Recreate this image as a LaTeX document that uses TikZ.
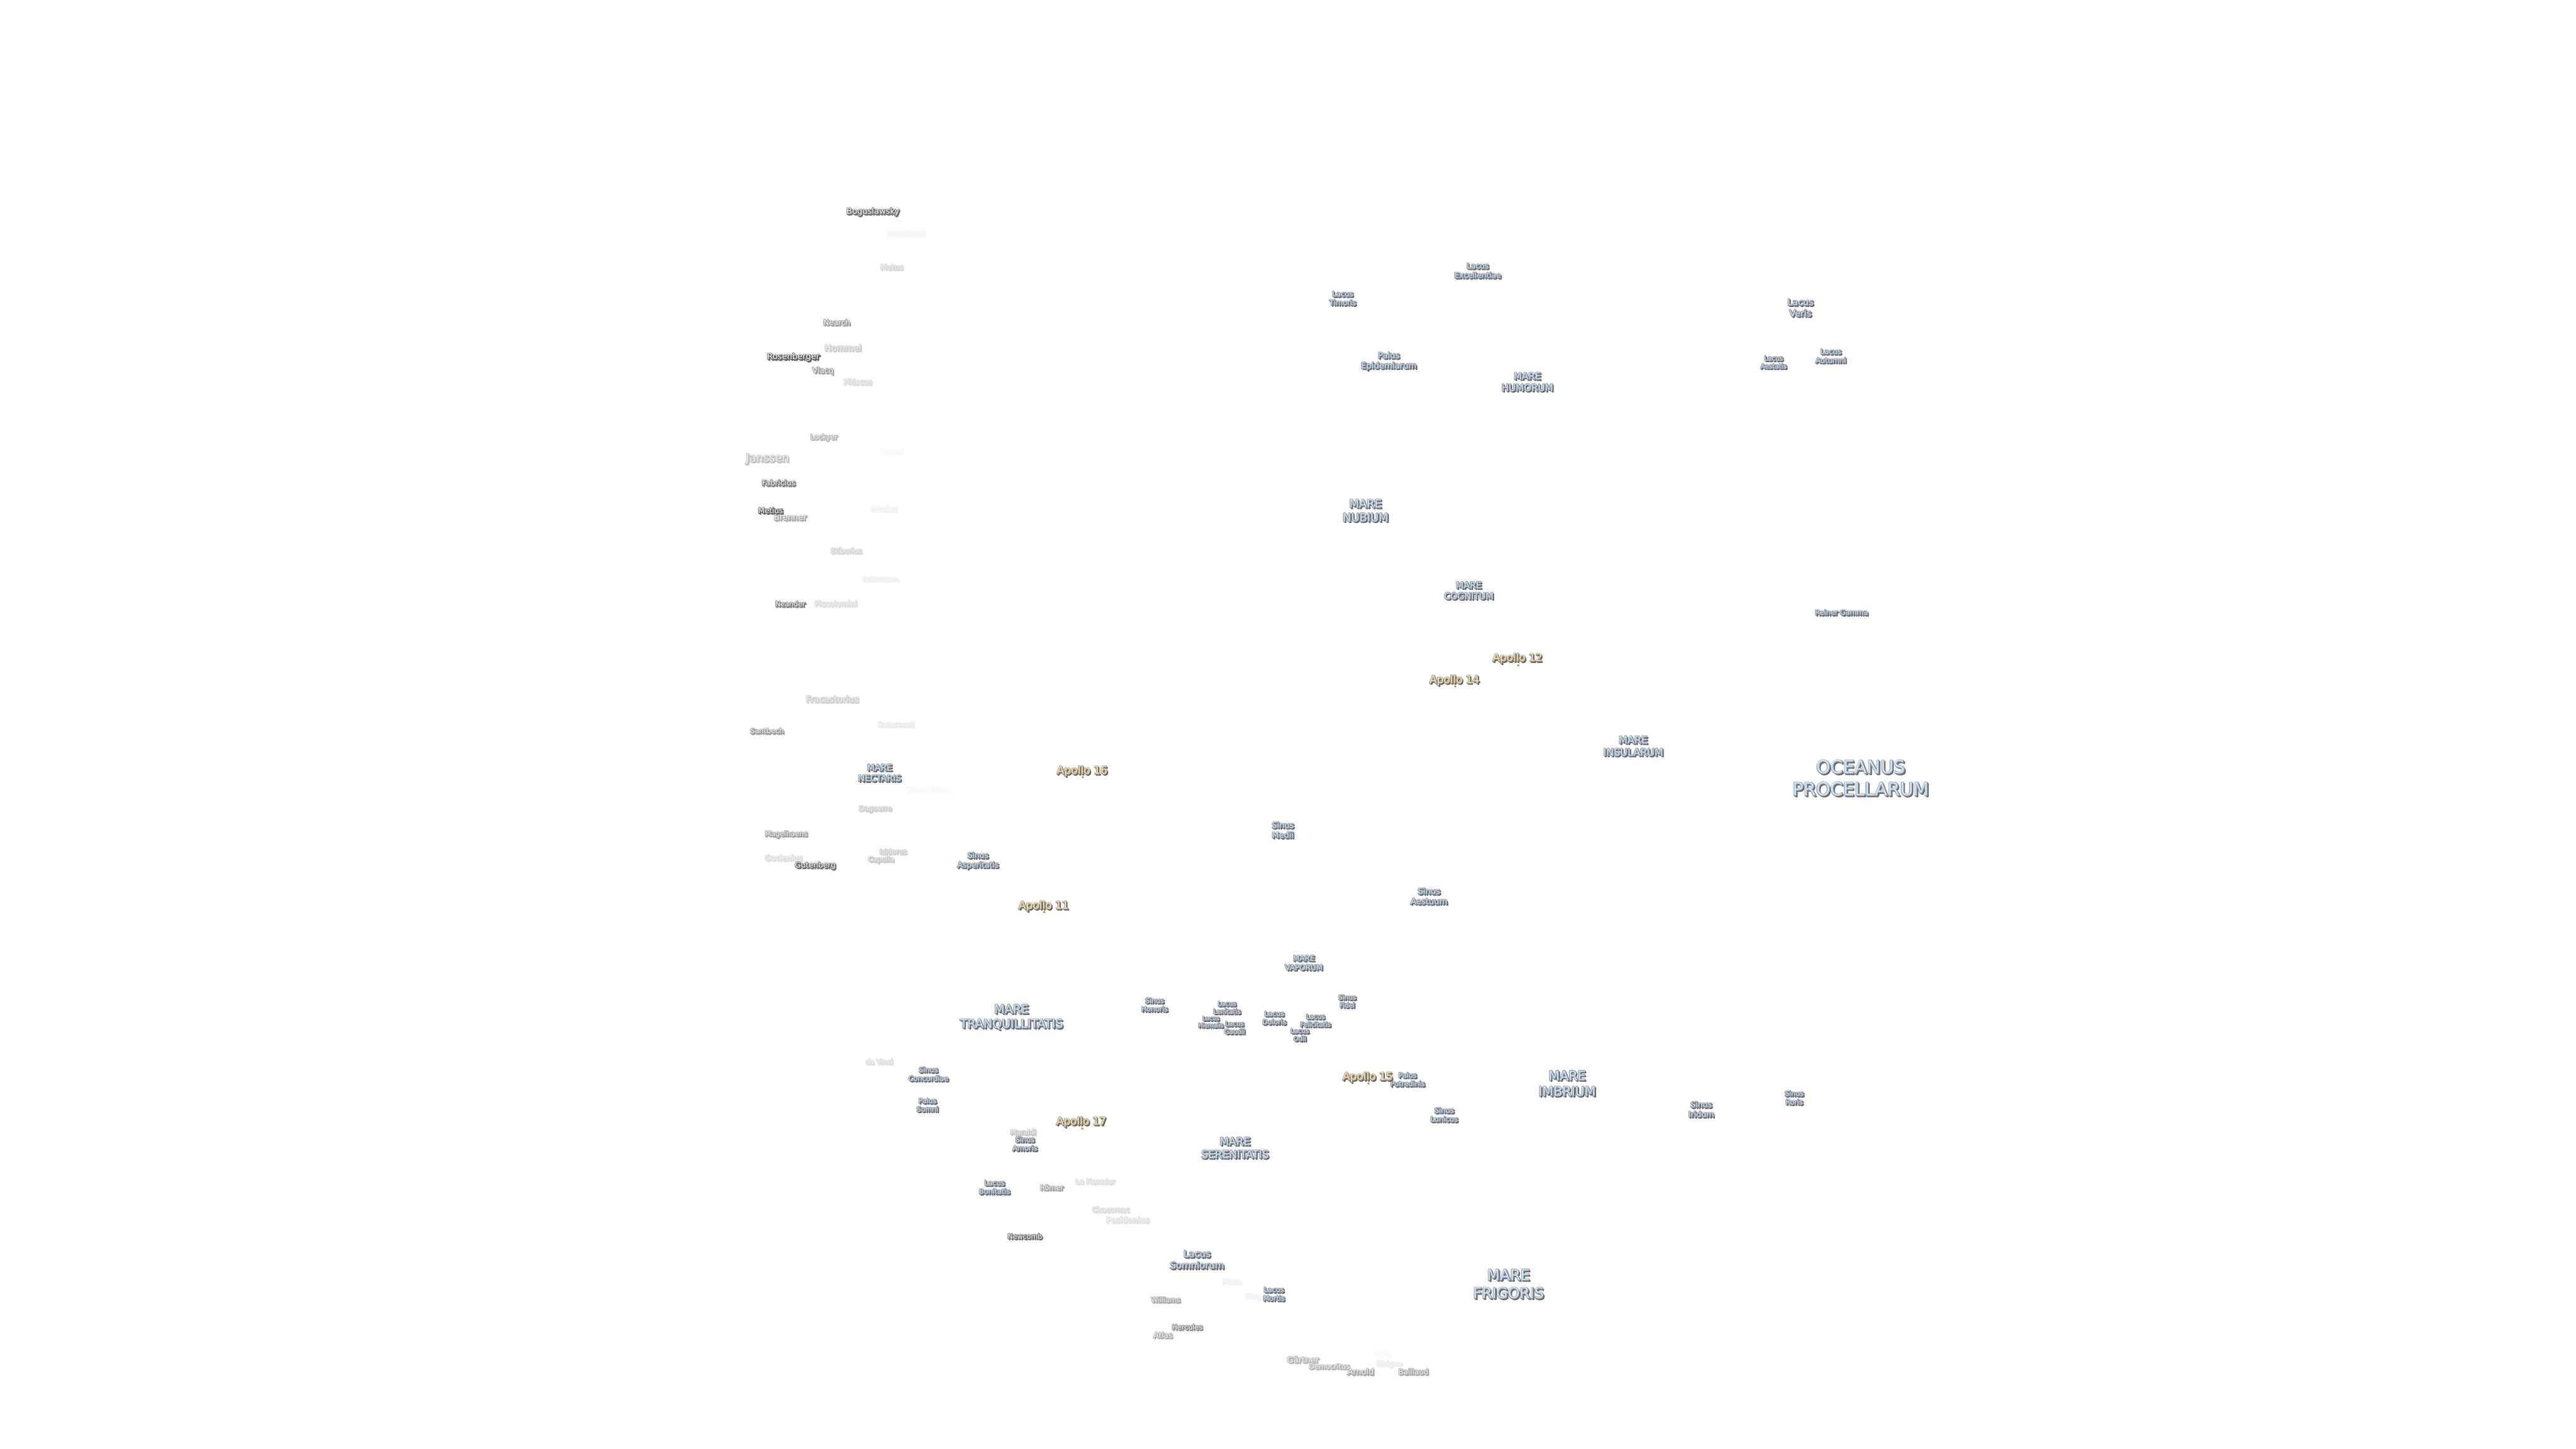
\documentclass[tikz,border=0pt]{standalone}
\usepackage{fontspec}
\setmainfont{DejaVu Sans}
\usepackage{xcolor}
\definecolor{seafill}{HTML}{CFE5FB}
\definecolor{seaedge}{HTML}{8E9298}
\definecolor{seashadow}{HTML}{585D64}
\definecolor{apofill}{HTML}{FDE3B4}
\definecolor{apoedge}{HTML}{9A9488}
\definecolor{aposhadow}{HTML}{5C5952}
\tikzset{
  moonlabel/.style={inner sep=0pt,outer sep=0pt,anchor=center},
  apollodot/.style={circle,inner sep=0pt,minimum size=0.05cm,fill=apofill!60!orange!80!black,draw=none}
}
\newbox\moonbox
\newcommand\moonlines[1]{\begin{tabular}{@{}c@{}}#1\end{tabular}}
\newcommand\moonlayers[4]{%
  \leavevmode
  \rlap{\kern0.7pt\raisebox{-0.7pt}{\textcolor{#3}{\special{pdf:code 2 Tr 0.5 w 1 j}\moonlines{#4}\special{pdf:code 0 Tr}}}}%
  \rlap{\textcolor{#2}{\special{pdf:code 2 Tr 0.9 w 1 j}\moonlines{#4}\special{pdf:code 0 Tr}}}%
  \textcolor{#1}{\moonlines{#4}}}
% id, x px, y px, width px, fill, edge, shadow, text
\newcommand\moonlabelnode[8]{%
  \pgfinterruptpicture\global\setbox\moonbox\hbox{\fontsize{10pt}{12pt}\selectfont\moonlines{#8}}\endpgfinterruptpicture
  \pgfmathsetmacro\moonsize{10*(#4-2)*0.28453/\the\wd\moonbox}%
  \pgfmathsetmacro\moonskip{1.22*\moonsize}%
  \pgfmathsetmacro\moony{-(#3+3+0.1*\moonsize/0.2845)*0.01}%
  \node[moonlabel] (#1) at ({#2*0.01},\moony)
    {\fontsize{\moonsize pt}{\moonskip pt}\selectfont\moonlayers{#5}{#6}{#7}{#8}};}
\newcommand\seaL[5]{\moonlabelnode{#1}{#2}{#3}{#4}{seafill}{seaedge}{seashadow}{#5}}
\newcommand\apoL[5]{\moonlabelnode{#1}{#2}{#3}{#4}{apofill}{apoedge}{aposhadow}{#5}}
\newcommand\craL[6]{%
  \pgfmathsetmacro\moona{60*#5}\pgfmathsetmacro\moonb{60*#5}%
  \pgfmathsetmacro\moonc{min(10,33*#5)*(1-#5)}%
  \colorlet{craedge}{black!\moona!white}\colorlet{crashadow}{black!\moonb!white}\colorlet{crafill}{black!\moonc!white}%
  \moonlabelnode{#1}{#2}{#3}{#4}{crafill}{craedge}{crashadow}{#6}}
\begin{document}
\begin{tikzpicture}
\fill[white] (0,0) rectangle (57.6,-32.4);
\useasboundingbox (0,0) rectangle (57.6,-32.4);
% maria
\seaL{oceanus}{4163}{1740}{307}{OCEANUS\\PROCELLARUM}
\seaL{tranq}{2263}{2273}{232}{MARE\\TRANQUILLITATIS}
\seaL{frig}{3375}{2872}{160}{MARE\\FRIGORIS}
\seaL{imbr}{3506}{2423}{130}{MARE\\IMBRIUM}
\seaL{seren}{2763}{2567}{153}{MARE\\SERENITATIS}
\seaL{nubium}{3055}{1141}{104}{MARE\\NUBIUM}
\seaL{humorum}{3417}{853}{117}{MARE\\HUMORUM}
\seaL{cognitum}{3286}{1320}{112}{MARE\\COGNITUM}
\seaL{insul}{3654}{1668}{136}{MARE\\INSULARUM}
\seaL{vapor}{2917}{2153}{86}{MARE\\VAPORUM}
\seaL{nect}{1968}{1728}{98}{MARE\\NECTARIS}
% lakes, bays, marshes
\seaL{excell}{3306}{604}{106}{Lacus\\Excellentiae}
\seaL{timor}{3004}{666}{61}{Lacus\\Timoris}
\seaL{veris}{4028}{687}{60}{Lacus\\Veris}
\seaL{epidem}{3107}{805}{126}{Palus\\Epidemiarum}
\seaL{aestat}{3968}{809}{60}{Lacus\\Aestatis}
\seaL{autum}{4096}{795}{70}{Lacus\\Autumni}
\seaL{reiner}{4120}{1369}{120}{Reiner Gamma}
\seaL{medii}{2870}{1856}{51}{Sinus\\Medii}
\seaL{aestu}{3197}{2004}{84}{Sinus\\Aestuum}
\seaL{asper}{2188}{1923}{94}{Sinus\\Asperitatis}
\seaL{honor}{2583}{2247}{61}{Sinus\\Honoris}
\seaL{lenit}{2745}{2253}{63}{Lacus\\Lenitatis}
\seaL{hiem}{2709}{2285}{58}{Lacus\\Hiemalis}
\seaL{gaud}{2762}{2298}{48}{Lacus\\Gaudii}
\seaL{dolor}{2851}{2276}{55}{Lacus\\Doloris}
\seaL{felic}{2943}{2282}{70}{Lacus\\Felicitatis}
\seaL{odii}{2908}{2314}{43}{Lacus\\Odii}
\seaL{fidei}{3014}{2239}{41}{Sinus\\Fidei}
\seaL{putred}{3149}{2414}{79}{Palus\\Putredinis}
\seaL{iridum}{3806}{2481}{59}{Sinus\\Iridum}
\seaL{roris}{4014}{2455}{44}{Sinus\\Roris}
\seaL{lunicus}{3231}{2493}{63}{Sinus\\Lunicus}
\seaL{concord}{2077}{2402}{91}{Sinus\\Concordiae}
\seaL{somni}{2075}{2471}{50}{Palus\\Somni}
\seaL{amoris}{2293}{2558}{57}{Sinus\\Amoris}
\seaL{bonit}{2225}{2655}{71}{Lacus\\Bonitatis}
\seaL{somniorum}{2678}{2817}{123}{Lacus\\Somniorum}
\seaL{mortis}{2850}{2894}{50}{Lacus\\Mortis}
% landing sites
\apoL{apxi}{2335}{2024}{114}{Apollo 11}
\apoL{apxii}{3395}{1470}{113}{Apollo 12}
\apoL{apxiv}{3254}{1519}{113}{Apollo 14}
\apoL{apxv}{3060}{2407}{114}{Apollo 15}
\apoL{apxvi}{2421}{1722}{115}{Apollo 16}
\apoL{apxvii}{2419}{2507}{113}{Apollo 17}
\node[apollodot] (dxi) at (23.35,-20.40) {};
\node[apollodot] (dxii) at (33.95,-14.88) {};
\node[apollodot] (dxiv) at (32.54,-15.35) {};
\node[apollodot] (dxv) at (30.60,-24.23) {};
\node[apollodot] (dxvi) at (24.21,-17.38) {};
\node[apollodot] (dxvii) at (24.20,-25.24) {};
% craters
\craL{bogus}{1953}{471}{120}{0.9}{Boguslawsky}
\craL{manz}{2027}{520}{87}{0.06}{Manzinus}
\craL{mutus}{1995}{596}{53}{0.25}{Mutus}
\craL{nearch}{1872}{720}{62}{0.6}{Nearch}
\craL{hommel}{1886}{777}{84}{0.3}{Hommel}
\craL{rosen}{1775}{796}{119}{1}{Rosenberger}
\craL{vlacq}{1841}{827}{49}{0.6}{Vlacq}
\craL{pitis}{1919}{853}{65}{0.22}{Pitiscus}
\craL{lockyer}{1843}{976}{63}{0.45}{Lockyer}
\craL{nicolai}{1996}{1008}{52}{0.04}{Nicolai}
\craL{janssen}{1717}{1023}{98}{0.4}{Janssen}
\craL{fabric}{1742}{1079}{77}{0.8}{Fabricius}
\craL{riccius}{1978}{1137}{60}{0.08}{Riccius}
\craL{brenner}{1768}{1156}{75}{0.5}{Brenner}
\craL{metius}{1724}{1141}{57}{1}{Metius}
\craL{stib}{1893}{1231}{72}{0.25}{Stiborius}
\craL{roth}{1970}{1294}{82}{0.1}{Rothmann}
\craL{neander}{1768}{1350}{69}{0.8}{Neander}
\craL{piccol}{1870}{1349}{97}{0.2}{Piccolomini}
\craL{fracas}{1862}{1563}{120}{0.3}{Fracastorius}
\craL{beaum}{2004}{1619}{83}{0.13}{Beaumont}
\craL{santb}{1716}{1634}{77}{0.6}{Santbech}
\craL{theoph}{2077}{1766}{102}{0.03}{Theophilus}
\craL{dagu}{1958}{1807}{75}{0.3}{Daguerre}
\craL{magel}{1759}{1864}{97}{0.6}{Magelhaens}
\craL{isid}{1998}{1904}{63}{0.3}{Isidorus}
\craL{gocl}{1753}{1918}{86}{0.2}{Goclenius}
\craL{capella}{1971}{1921}{60}{0.35}{Capella}
\craL{guten}{1824}{1934}{93}{0.9}{Gutenberg}
\craL{davinci}{1967}{2374}{63}{0.2}{da Vinci}
\craL{marald}{2289}{2532}{59}{0.35}{Maraldi}
\craL{romer}{2353}{2656}{54}{0.55}{Römer}
\craL{lemon}{2450}{2642}{90}{0.2}{Le Monnier}
\craL{chac}{2485}{2705}{86}{0.22}{Chacornac}
\craL{posid}{2523}{2728}{98}{0.18}{Posidonius}
\craL{newc}{2293}{2765}{79}{0.9}{Newcomb}
\craL{plana}{2756}{2866}{44}{0.1}{Plana}
\craL{burg}{2803}{2899}{37}{0.08}{Bürg}
\craL{will}{2608}{2907}{67}{0.55}{Williams}
\craL{herc}{2656}{2968}{70}{0.7}{Hercules}
\craL{atlas}{2602}{2986}{44}{0.5}{Atlas}
\craL{gart}{2915}{3041}{73}{0.45}{Gärtner}
\craL{demo}{2974}{3056}{93}{0.45}{Democritus}
\craL{arnold}{3044}{3068}{61}{0.55}{Arnold}
\craL{kane}{3092}{3028}{39}{0.03}{Kane}
\craL{moigno}{3108}{3049}{59}{0.12}{Moigno}
\craL{baill}{3162}{3068}{69}{0.55}{Baillaud}
\end{tikzpicture}
\end{document}
